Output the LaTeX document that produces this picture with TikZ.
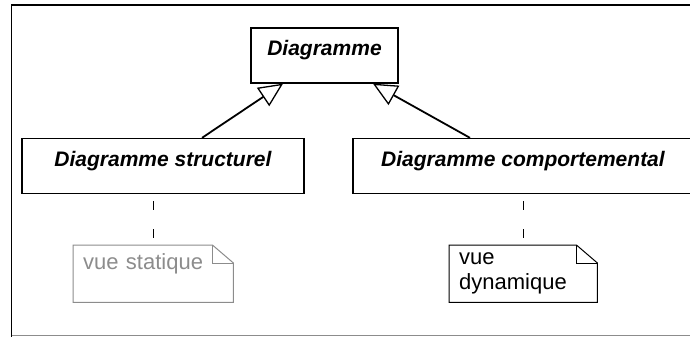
\documentclass[tikz,border=0pt]{standalone}
\usepackage{fontspec}
\setmainfont{Liberation Sans}
\usetikzlibrary{arrows.meta, positioning, calc}
\tikzset{
  cls/.style={rectangle, draw=black, line width=1.3pt, font=\fontsize{21}{25}\selectfont\bfseries\itshape, text height=15pt, text depth=15pt, minimum height=55pt},
  notebox/.style={rectangle, font=\fontsize{22}{25}\selectfont, align=left, minimum height=57pt, inner xsep=10pt, anchor=north west},
  gen/.style={-{Triangle[open, length=24pt, width=22pt, line width=1.3pt]}, line width=1.8pt},
  dep/.style={line width=1pt, dash pattern=on 9pt off 19pt, dash phase=21pt},
}

\begin{document}
\begin{tikzpicture}[x=1pt, y=-1pt]
  \useasboundingbox (0,0) rectangle (690,337);
  % frame
  \draw[line width=1.6pt] (690,5) -- (11.5,5) -- (11.5,337);
  \draw[line width=1pt, black!45] (11.5,335) -- (690,335);

  % classes
  \node[cls, minimum width=147pt] (diag) at (324.5,55.5) {Diagramme};
  \node[cls, minimum width=282pt] (struct) at (163,166) {Diagramme structurel};
  \node[cls, minimum width=340pt] (comp) at (523,166) {Diagramme comportemental};

  % notes
  \node[notebox, text width=140pt, text=black!45] (stat) at (73,245) {vue statique\\ \mbox{}};
  \node[notebox, text width=128pt] (dyn) at (449,245) {vue\\dynamique};
  \foreach \n/\c in {stat/black!45, dyn/black} {
    \draw[color=\c, line width=1pt] (\n.north west) -- ([xshift=-21pt]\n.north east)
      -- ([yshift=-18pt]\n.north east) -- (\n.south east) -- (\n.south west) -- cycle;
    \draw[color=\c, line width=1pt] ([xshift=-21pt]\n.north east) |- ([yshift=-18pt]\n.north east);
  }

  % generalizations
  \draw[gen] ([xshift=39pt]struct.north) -- ([xshift=-41.5pt]diag.south);
  \draw[gen] ([xshift=-53pt]comp.north) -- ([xshift=48.5pt]diag.south);

  % dependencies
  \draw[dep] (struct.south -| stat.north) -- (stat.north);
  \draw[dep] (comp.south -| dyn.north) -- (dyn.north);
\end{tikzpicture}
\end{document}
